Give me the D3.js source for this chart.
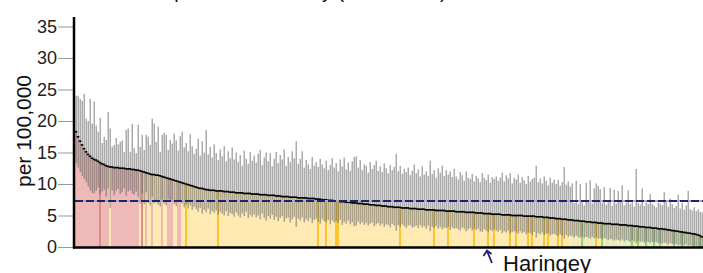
<!DOCTYPE html>
<html>
<head>
<meta charset="utf-8">
<title>per 100,000</title>
<script src="https://cdn.jsdelivr.net/npm/d3@7"></script>
<style>
  body { margin: 0; background: #fff; }
  svg { display: block; font-family: Arial, "Liberation Sans", sans-serif; }
</style>
</head>
<body>
<div id="chart"></div>
<script>
  // rate per 100,000 for each area, sorted high to low
  var rate = [18.3,17.5,16.8,16.2,15.6,15.1,14.7,14.4,14.1,13.9,
    13.8,13.6,13.4,13.2,13.1,12.9,12.8,12.7,12.7,12.6,
    12.6,12.6,12.5,12.5,12.5,12.4,12.4,12.4,12.3,12.3,
    12.2,12.2,12.1,12.0,11.9,11.8,11.7,11.6,11.5,11.5,
    11.4,11.4,11.3,11.2,11.1,11.0,10.9,10.8,10.7,10.6,
    10.5,10.4,10.3,10.2,10.1,10.0,9.9,9.8,9.7,9.6,
    9.5,9.4,9.3,9.3,9.2,9.1,9.1,9.0,9.0,9.0,
    8.9,8.9,8.9,8.9,8.8,8.8,8.8,8.7,8.7,8.7,
    8.6,8.6,8.6,8.6,8.5,8.5,8.5,8.5,8.4,8.4,
    8.4,8.4,8.3,8.3,8.3,8.3,8.2,8.2,8.2,8.2,
    8.1,8.1,8.1,8.0,8.0,8.0,8.0,7.9,7.9,7.9,
    7.9,7.8,7.8,7.8,7.8,7.8,7.7,7.7,7.7,7.7,
    7.6,7.6,7.6,7.5,7.5,7.5,7.4,7.4,7.4,7.3,
    7.3,7.3,7.2,7.2,7.2,7.1,7.1,7.1,7.0,7.0,
    7.0,6.9,6.9,6.9,6.8,6.8,6.8,6.7,6.7,6.7,
    6.6,6.6,6.6,6.5,6.5,6.5,6.4,6.4,6.4,6.3,
    6.3,6.3,6.3,6.2,6.2,6.2,6.2,6.1,6.1,6.1,
    6.1,6.0,6.0,6.0,6.0,5.9,5.9,5.9,5.9,5.9,
    5.8,5.8,5.8,5.8,5.8,5.7,5.7,5.7,5.7,5.7,
    5.6,5.6,5.6,5.6,5.6,5.5,5.5,5.5,5.5,5.5,
    5.4,5.4,5.4,5.4,5.3,5.3,5.3,5.3,5.2,5.2,
    5.2,5.2,5.2,5.1,5.1,5.1,5.1,5.1,5.0,5.0,
    5.0,5.0,5.0,5.0,4.9,4.9,4.9,4.9,4.9,4.9,
    4.8,4.8,4.8,4.8,4.7,4.7,4.7,4.6,4.6,4.6,
    4.5,4.5,4.5,4.4,4.4,4.4,4.3,4.3,4.3,4.2,
    4.2,4.2,4.1,4.1,4.1,4.0,4.0,4.0,3.9,3.9,
    3.9,3.8,3.8,3.8,3.7,3.7,3.7,3.7,3.6,3.6,
    3.6,3.6,3.5,3.5,3.5,3.5,3.4,3.4,3.4,3.3,
    3.3,3.3,3.2,3.2,3.2,3.1,3.1,3.1,3.0,3.0,
    3.0,2.9,2.9,2.9,2.8,2.8,2.7,2.7,2.6,2.6,
    2.5,2.5,2.4,2.4,2.3,2.3,2.2,2.2,2.1,2.1,
    2.0,1.9,1.8,1.6];

  // upper confidence limit
  var upper = [24.0,24.0,23.5,23.2,24.3,20.4,20.0,23.5,19.6,23.1,
    19.3,18.3,20.5,16.5,17.5,17.0,21.4,18.8,15.9,16.2,
    17.3,16.3,16.7,16.9,15.1,18.6,18.8,15.1,19.5,15.7,
    14.9,19.4,15.9,17.8,15.4,17.8,17.5,16.2,20.4,19.6,
    16.7,19.1,15.1,17.8,18.1,17.8,15.4,17.0,16.4,18.0,
    16.9,15.3,17.6,18.3,15.8,16.5,15.2,17.9,16.0,14.8,
    15.6,17.2,14.5,16.8,15.0,18.6,14.7,15.9,14.2,16.3,
    14.9,13.8,15.5,14.4,16.0,13.6,15.2,14.1,15.8,13.9,
    15.0,13.5,14.6,12.9,15.3,14.0,13.2,15.1,13.7,14.5,
    13.4,14.8,15.4,13.0,14.2,15.0,13.6,14.9,12.8,14.0,
    15.1,13.3,14.6,13.9,15.5,12.9,14.3,13.5,15.2,14.1,
    16.8,13.2,14.0,15.2,12.6,13.8,13.1,12.4,14.3,12.9,
    13.5,12.7,14.0,13.1,12.5,13.7,12.2,13.0,14.1,12.6,
    13.3,12.0,13.9,12.8,14.2,12.3,13.4,12.1,13.6,14.3,
    14.4,12.6,13.8,12.2,13.1,12.9,11.8,13.5,12.4,13.0,
    13.7,12.1,12.8,11.9,13.3,12.5,11.7,13.0,12.2,12.7,
    14.8,12.0,12.9,11.6,12.4,11.9,12.6,11.4,12.1,13.1,
    11.7,12.3,11.2,12.8,11.5,12.0,11.3,13.7,11.6,12.2,
    11.0,12.5,11.8,12.9,11.3,12.2,11.5,12.0,11.1,12.4,
    11.2,10.7,11.9,11.4,10.5,12.0,11.0,10.8,11.6,10.4,
    11.3,10.9,10.3,11.7,11.0,10.6,11.5,10.2,11.1,10.8,
    11.2,10.5,11.0,11.8,10.4,11.4,10.9,11.7,10.1,11.0,
    10.7,11.5,10.2,11.1,10.6,10.0,11.3,10.4,10.8,11.0,
    12.9,10.3,10.9,10.1,11.2,10.5,9.8,11.0,10.2,10.7,
    10.0,10.6,9.7,10.3,12.7,9.9,10.4,9.6,10.1,7.0,
    10.5,6.8,10.0,7.1,6.6,10.2,7.2,10.6,6.9,9.3,
    10.1,9.7,9.2,7.0,9.5,6.7,7.1,9.4,6.5,9.1,
    6.9,8.9,7.2,9.8,6.6,7.0,9.0,6.8,7.1,6.4,
    12.4,7.0,6.7,9.3,6.5,7.1,6.8,8.4,6.9,6.6,
    6.3,7.0,6.9,6.6,8.7,7.1,6.4,7.7,6.8,6.2,
    6.5,8.3,6.1,7.0,5.9,6.6,8.9,6.0,5.8,6.3,
    5.7,6.0,5.6,5.5];

  // lower confidence limit
  var lower = [13.3,12.6,11.9,11.3,10.8,10.3,9.6,9.0,8.6,8.5,
    8.9,9.4,8.3,8.8,9.1,8.0,9.3,6.2,9.0,8.2,
    8.9,9.2,8.4,8.7,9.3,8.1,8.8,9.0,8.5,8.3,
    8.8,8.0,6.9,8.4,6.8,8.7,7.0,6.6,8.0,6.9,
    7.1,6.7,6.4,7.5,6.9,6.6,7.6,7.4,7.5,6.8,
    6.5,7.4,7.5,6.9,6.3,6.7,6.1,6.6,5.9,6.4,
    6.0,5.6,6.2,5.3,5.9,5.5,6.1,5.2,5.7,5.4,
    5.8,5.1,5.6,5.3,5.0,5.7,4.9,5.4,5.2,4.8,
    5.5,5.0,4.7,5.3,4.9,5.6,4.6,5.1,4.8,5.2,
    4.7,5.0,4.4,5.3,4.6,4.2,4.9,4.5,5.1,4.3,
    4.8,4.1,4.6,4.9,4.0,4.5,4.7,3.9,4.4,4.8,
    3.2,4.5,4.2,4.7,3.9,4.4,4.1,4.6,3.8,4.3,
    4.5,4.0,3.7,4.4,4.1,3.9,4.3,3.6,4.2,3.9,
    4.1,3.8,4.3,3.5,4.0,3.7,4.2,3.6,3.9,3.3,
    3.4,4.0,3.6,3.9,3.5,3.8,3.4,3.7,3.9,3.3,
    3.6,3.8,3.4,3.7,3.2,3.6,3.5,3.1,3.7,3.4,
    2.6,3.5,3.2,3.6,3.3,3.0,3.4,3.5,3.1,3.2,
    3.4,3.0,3.5,3.1,3.3,2.9,3.4,2.5,3.2,3.0,
    3.3,2.9,3.2,2.8,3.1,3.0,3.2,2.7,3.1,2.9,
    3.0,2.8,2.6,3.1,2.9,2.5,2.8,3.0,2.6,2.9,
    2.7,2.9,2.5,2.4,2.8,2.6,2.3,2.7,2.5,2.8,
    2.6,2.4,2.7,2.2,2.5,2.3,2.6,2.1,2.4,2.5,
    2.3,2.1,2.5,2.2,2.4,2.0,2.3,2.2,1.9,2.4,
    1.5,2.2,2.0,2.3,1.9,2.1,2.2,1.8,2.0,2.1,
    1.9,1.7,2.0,1.8,1.3,1.9,1.6,1.8,1.7,1.5,
    1.8,1.6,1.5,1.7,1.4,1.6,1.5,1.3,1.6,1.4,
    1.5,1.3,1.4,1.2,1.4,1.3,1.1,1.3,1.2,1.0,
    1.2,1.1,1.0,1.2,0.9,1.1,1.0,0.8,1.1,0.9,
    0.6,1.0,0.8,0.9,0.7,0.9,0.8,0.6,0.8,0.7,
    0.8,0.6,0.7,0.5,0.7,0.6,0.4,0.6,0.5,0.4,
    0.5,0.3,0.4,0.2,0.3,0.4,0.2,0.3,0.2,0.1,
    0.2,0.1,0.1,0.0];

  // h = higher, s = similar, l = lower than average; capitals = highlighted areas
  var sig = ("hhhhhhhhhh" + "hhHhhhhshh" + "hhhhhhhhhh" + "hhsHshsshs" +
    "ssshsshhhs" + "shhssSssss" + "ssssssssss" + "sSssssssss" +
    "ssssssssss" + "ssssssssss" + "ssssssssss" + "ssssssssss" +
    "sSsssSssss" + "SSssssssss" + "ssssssssss" + "ssssssssss" +
    "ssSsssssss" + "sssssssssS" + "ssssssSsss" + "sssssssssS" +
    "ssssssSssS" + "sssssssSss" + "SsssssSsSs" + "ssssSsSsss" +
    "sSsSsssssl" + "slsLlslsls" + "SssLsllsls" + "lslsllslLl" +
    "sLlslLlslL" + "llLlsllslL" + "lslLllsllL" + "llLl").split("");

  var yTicks = [0, 5, 10, 15, 20, 25, 30, 35];
  var average = 7.3;
  var markName = "Haringey";
  var markIndex = 206;
  var titleText = "Suicide rate per local authority (2016-2018)";

  var colours = {
    h: "#eeb9b7", H: "#dc8c8a",
    s: "#feeab2", S: "#fec42c",
    l: "#dbedc9", L: "#98d36a"
  };

  var wid = 703, high = 273;
  var svg = d3.select("#chart").append("svg")
    .attr("width", wid)
    .attr("height", high);

  var ax = d3.scaleBand()
    .domain(d3.range(rate.length))
    .range([75, 703])
    .padding(0);

  var ay = d3.scaleLinear()
    .domain([0, 35])
    .range([247, 26.5]);

  var bw = ax.bandwidth();

  // title, mostly above the picture
  svg.append("text")
    .attr("x", 63)
    .attr("y", -2.5)
    .attr("font-size", 20)
    .attr("fill", "#111")
    .text(titleText);

  // coloured bars from zero to the rate
  svg.append("g").selectAll("rect")
    .data(rate)
    .enter()
    .append("rect")
    .attr("x", function(d, i) { return ax(i); })
    .attr("y", function(d) { return ay(d); })
    .attr("width", bw + 0.2)
    .attr("height", function(d) { return ay(0) - ay(d); })
    .attr("fill", function(d, i) { return colours[sig[i]]; });

  // confidence intervals
  svg.append("g").selectAll("rect")
    .data(rate)
    .enter()
    .append("rect")
    .attr("x", function(d, i) { return Math.round(ax(i)) + 0.5; })
    .attr("y", function(d, i) { return ay(upper[i]); })
    .attr("width", 1.5)
    .attr("height", function(d, i) { return ay(lower[i]) - ay(upper[i]); })
    .attr("fill", "#666")
    .attr("fill-opacity", 0.55);

  // rate markers
  svg.append("g").selectAll("line")
    .data(rate)
    .enter()
    .append("line")
    .attr("x1", function(d, i) { return ax(i) - 0.3; })
    .attr("x2", function(d, i) { return ax(i) + bw + 0.3; })
    .attr("y1", function(d) { return ay(d); })
    .attr("y2", function(d) { return ay(d); })
    .attr("stroke", "#000")
    .attr("stroke-width", 1.6);

  // average line
  svg.append("line")
    .attr("x1", 75).attr("x2", 703)
    .attr("y1", ay(average)).attr("y2", ay(average))
    .attr("stroke", "#a7a9c8")
    .attr("stroke-width", 2);
  svg.append("line")
    .attr("x1", 75).attr("x2", 703)
    .attr("y1", ay(average)).attr("y2", ay(average))
    .attr("stroke", "#1f2466")
    .attr("stroke-width", 2)
    .attr("stroke-dasharray", "8,3");

  // y axis
  var yaxis = d3.axisLeft(ay)
    .tickValues(yTicks)
    .tickSize(15)
    .tickPadding(1);

  var gy = svg.append("g")
    .attr("transform", "translate(73,0)")
    .call(yaxis);
  gy.select(".domain").remove();
  gy.selectAll(".tick line").attr("stroke", "#999");
  gy.selectAll(".tick text")
    .attr("font-size", 18)
    .attr("font-family", "Arial, 'Liberation Sans', sans-serif")
    .attr("fill", "#222");

  svg.append("line")
    .attr("x1", 74).attr("x2", 74)
    .attr("y1", 17).attr("y2", 248.5)
    .attr("stroke", "#000")
    .attr("stroke-width", 2.5);
  svg.append("line")
    .attr("x1", 73).attr("x2", 703)
    .attr("y1", 247.5).attr("y2", 247.5)
    .attr("stroke", "#000")
    .attr("stroke-width", 2.5);

  svg.append("text")
    .text("per 100,000")
    .attr("text-anchor", "middle")
    .attr("font-size", 21)
    .attr("fill", "#111")
    .attr("transform", "translate(31,131) rotate(-90)");

  // highlighted area: arrow and name
  var mx = ax(markIndex) + bw / 2;
  svg.append("line")
    .attr("x1", mx + 4).attr("y1", 263)
    .attr("x2", mx - 1).attr("y2", 251)
    .attr("stroke", "#1c2068")
    .attr("stroke-width", 1.8);
  svg.append("path")
    .attr("d", "M" + (mx - 4.5) + "," + 256 + "L" + (mx - 1) + "," + 250.5 + "L" + (mx + 3.5) + "," + 254)
    .attr("fill", "none")
    .attr("stroke", "#1c2068")
    .attr("stroke-width", 1.8);

  svg.append("text")
    .attr("x", 503)
    .attr("y", 271)
    .attr("font-size", 22)
    .attr("fill", "#111")
    .text(markName);
</script>
</body>
</html>
